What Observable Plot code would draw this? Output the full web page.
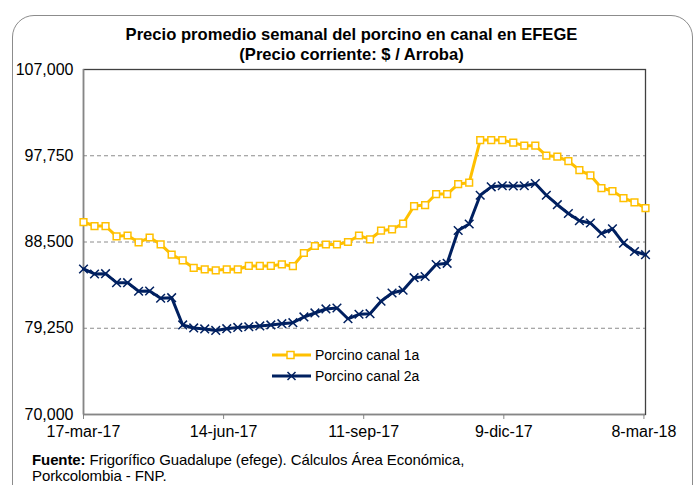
<!DOCTYPE html>
<html><head><meta charset="utf-8">
<script src="https://cdn.jsdelivr.net/npm/d3@7"></script>
<script src="https://cdn.jsdelivr.net/npm/@observablehq/plot@0.6"></script>
<style>
body{margin:0;background:#fff;font-family:"Liberation Sans",Arial,sans-serif;}
#wrap{position:relative;width:699px;height:485px;overflow:hidden;background:#fff;}
#border{position:absolute;left:12px;top:15px;width:681px;height:520px;border:1px solid #8c8c8c;border-radius:22px;box-sizing:border-box;}
#title{position:absolute;left:0;width:703px;top:25px;text-align:center;font-weight:bold;font-size:16.6px;line-height:20px;color:#000;}
#chart{position:absolute;left:0;top:0;}
#legend{position:absolute;left:0;top:0;}
#caption{position:absolute;left:32px;top:452px;font-size:15px;line-height:16px;color:#000;letter-spacing:-0.1px;}
</style></head><body>
<div id="wrap">
  <div id="border"></div>
  <div id="chart"></div>
  <div id="title">Precio promedio semanal del porcino en canal en EFEGE<br>(Precio corriente: $ / Arroba)</div>
  <div id="legend"></div>
  <div id="caption"><b>Fuente:</b> Frigorífico Guadalupe (efege). Cálculos Área Económica,<br>Porkcolombia - FNP.</div>
</div>
<script>
const weeks = [
 "2017-03-17","2017-03-24","2017-03-31","2017-04-07","2017-04-14","2017-04-21","2017-04-28",
 "2017-05-05","2017-05-12","2017-05-19","2017-05-26","2017-06-02","2017-06-09","2017-06-16",
 "2017-06-23","2017-06-30","2017-07-07","2017-07-14","2017-07-21","2017-07-28","2017-08-04",
 "2017-08-11","2017-08-18","2017-08-25","2017-09-01","2017-09-08","2017-09-15","2017-09-22",
 "2017-09-29","2017-10-06","2017-10-13","2017-10-20","2017-10-27","2017-11-03","2017-11-10",
 "2017-11-17","2017-11-24","2017-12-01","2017-12-08","2017-12-15","2017-12-22","2017-12-29",
 "2018-01-05","2018-01-12","2018-01-19","2018-01-26","2018-02-02","2018-02-09","2018-02-16",
 "2018-02-23","2018-03-02","2018-03-09"];
const canal1a = [
 90644,90215,90215,89111,89197,88468,88982,88253,87139,86538,85713,85574,85466,85574,
 85574,85927,85927,85927,86109,85906,87321,88071,88232,88232,88500,89197,88789,89711,
 89861,90483,92359,92466,93646,93646,94718,94857,99434,99434,99434,99145,98834,98834,
 97773,97644,97183,96218,95650,94289,93967,93217,92756,92145];
const canal2a = [
 85606,85070,85102,84137,84137,83215,83247,82465,82529,79602,79281,79174,79013,79206,
 79334,79409,79495,79602,79742,79849,80460,80889,81318,81425,80267,80750,80814,82143,
 83033,83322,84673,84802,86088,86217,89733,90430,93517,94417,94535,94503,94535,94771,
 93517,92499,91555,90783,90537,89411,89915,88371,87482,87139];
const seriesNames = ["Porcino canal 1a","Porcino canal 2a"];
const xTickDates = ["2017-03-17","2017-06-14","2017-09-11","2017-12-09","2018-03-08"];
const xTickLabels = ["17-mar-17","14-jun-17","11-sep-17","9-dic-17","8-mar-18"];
const yTicks = [70000,79250,88500,97750,107000];

const parse = s => new Date(s + "T00:00:00Z");
const rows1 = weeks.map((w,i)=>({date:parse(w), v:canal1a[i]}));
const rows2 = weeks.map((w,i)=>({date:parse(w), v:canal2a[i]}));
const tickD = xTickDates.map(parse);
const labelMap = new Map(tickD.map((d,i)=>[+d, xTickLabels[i]]));
const xDomain = [parse(weeks[0]), parse(weeks[weeks.length-1])];
const C1 = "#FFC000", C2 = "#002060";

const chart = Plot.plot({
  width: 699, height: 450,
  marginLeft: 83, marginRight: 54, marginTop: 69, marginBottom: 36,
  style: {fontFamily: "'Liberation Sans', Arial, sans-serif", fontSize: "16px", color: "#000", background: "transparent", overflow: "visible"},
  x: {type: "utc", domain: xDomain, ticks: tickD, tickFormat: d => labelMap.get(+d), tickSize: 5, tickPadding: 6, label: null},
  y: {domain: [70000, 107000], ticks: yTicks, tickFormat: d3.format(","), tickSize: 0, tickPadding: 10, label: null},
  marks: [
    Plot.ruleY(yTicks.slice(1,-1), {stroke: "#8c8c8c", strokeDasharray: "4,3", strokeWidth: 1}),
    Plot.frame({stroke: "#404040", strokeWidth: 1.3}),
    Plot.ruleX([xDomain[0]], {stroke: "#868686", strokeWidth: 1.5}),
    Plot.ruleY([70000], {stroke: "#868686", strokeWidth: 1.5}),
    Plot.line(rows1, {x: "date", y: "v", stroke: C1, strokeWidth: 3}),
    Plot.dot(rows1, {x: "date", y: "v", symbol: "square", r: 3.8, fill: "white", stroke: C1, strokeWidth: 1.5}),
    Plot.line(rows2, {x: "date", y: "v", stroke: C2, strokeWidth: 3}),
    Plot.dot(rows2, {x: "date", y: "v", symbol: "times", r: 4, stroke: C2, strokeWidth: 1.5})
  ]
});
document.getElementById("chart").appendChild(chart);
d3.select(chart).selectAll('g[aria-label^="x-axis"] path, g[aria-label^="x-axis"] line').attr("stroke", "#868686");

// legend (inside plot area)
const lg = d3.select("#legend").append("svg").attr("width", 699).attr("height", 485)
  .style("position","absolute").style("left","0").style("top","0");
const items = [{name: seriesNames[0], color: C1, sym: "sq", y: 355}, {name: seriesNames[1], color: C2, sym: "x", y: 376}];
items.forEach(it => {
  lg.append("line").attr("x1", 272).attr("x2", 311).attr("y1", it.y).attr("y2", it.y).attr("stroke", it.color).attr("stroke-width", 3);
  if (it.sym === "sq") {
    lg.append("rect").attr("x", 287).attr("y", it.y-3.5).attr("width", 7).attr("height", 7).attr("fill","white").attr("stroke", it.color).attr("stroke-width",1.5);
  } else {
    lg.append("path").attr("d", `M${291.5-4},${it.y-4}L${291.5+4},${it.y+4}M${291.5-4},${it.y+4}L${291.5+4},${it.y-4}`).attr("stroke", it.color).attr("stroke-width",1.5);
  }
  lg.append("text").attr("x", 315).attr("y", it.y+5).attr("font-size", 14).attr("font-family","'Liberation Sans', Arial, sans-serif").text(it.name);
});
</script>
</body></html>
